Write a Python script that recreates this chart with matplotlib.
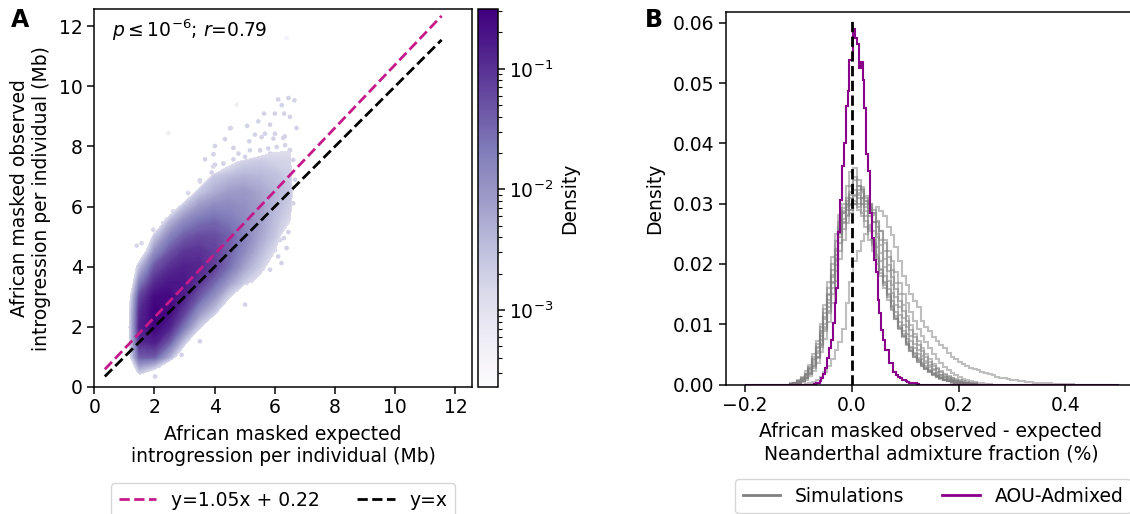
import numpy as np
import matplotlib
matplotlib.use("Agg")
import matplotlib.pyplot as plt
from matplotlib.colors import LogNorm
from matplotlib.cm import ScalarMappable
from matplotlib.lines import Line2D

W, H = 1130, 514

grid_x = [1.0, 1.5, 2.0, 2.5, 3.0, 3.5, 4.0, 4.5, 5.0, 5.5, 6.0, 6.5, 7.0]
grid_y = [0.0, 0.5, 1.0, 1.5, 2.0, 2.5, 3.0, 3.5, 4.0, 4.5, 5.0, 5.5, 6.0, 6.5, 7.0, 7.5, 8.0]
O = -4.5
log_density = [
    [O, O, O, O, O, O, O, O, O, O, O, O, O],
    [O, -2.6, -3.2, O, O, O, O, O, O, O, O, O, O],
    [-3.8, -1.4, -1.4, -2.3, -3.8, O, O, O, O, O, O, O, O],
    [-3.8, -0.95, -0.8, -1.4, -2.6, -4.2, O, O, O, O, O, O, O],
    [-3.8, -0.85, -0.55, -0.85, -1.7, -2.7, -4.2, O, O, O, O, O, O],
    [-3.8, -0.95, -0.52, -0.62, -1.15, -2.0, -2.6, -4.2, O, O, O, O, O],
    [-4.0, -1.2, -0.62, -0.6, -0.85, -1.4, -2.0, -2.8, -4.2, O, O, O, O],
    [O, -1.8, -0.95, -0.75, -0.75, -1.05, -1.5, -2.1, -2.65, -3.1, -3.3, O, O],
    [O, -2.5, -1.35, -1.0, -0.85, -0.9, -1.15, -1.6, -2.2, -2.65, -3.3, O, O],
    [O, -3.6, -1.95, -1.35, -1.05, -1.0, -1.15, -1.45, -1.9, -2.4, -2.9, O, O],
    [O, O, -2.6, -1.8, -1.4, -1.25, -1.25, -1.45, -1.75, -2.2, -2.6, -3.5, O],
    [O, O, -3.9, -2.4, -1.85, -1.6, -1.5, -1.65, -1.85, -2.1, -2.5, -2.9, O],
    [O, O, O, -3.6, -2.5, -2.05, -1.85, -1.85, -1.95, -2.1, -2.4, -2.7, O],
    [O, O, O, O, -3.8, -2.6, -2.3, -2.1, -2.05, -2.2, -2.4, -2.6, O],
    [O, O, O, O, O, -3.8, -2.6, -2.45, -2.35, -2.4, -2.5, -2.7, O],
    [O, O, O, O, O, O, -4.2, -3.1, -2.75, -2.65, -2.75, -2.8, O],
    [O, O, O, O, O, O, O, O, O, -3.4, -3.0, -2.95, O],
]

# single sparse points around the edge of the cloud
fringe_x = [6.45, 6.11, 6.65, 6.23, 6.31, 6.50, 6.00, 5.64, 5.84, 4.53, 5.45, 6.72, 5.08,
            5.67, 6.00, 5.34, 6.28, 5.56, 5.95, 4.34, 5.15, 4.01, 4.62, 6.34, 6.06, 5.78,
            5.17, 4.79, 5.51, 6.50, 5.84, 4.62, 5.01, 3.96, 4.29, 3.68, 4.01, 3.90, 3.51,
            6.39, 6.11, 6.22, 5.84, 5.61, 5.39, 5.73, 6.17, 6.28, 6.39, 6.61, 6.56, 6.67,
            6.61, 6.50, 6.33, 5.06, 5.01, 4.06, 3.51, 2.90, 2.02, 5.90, 6.10, 6.30, 5.60,
            5.30, 5.70, 6.00, 6.45, 6.20, 4.90, 4.40, 4.70, 5.25, 3.30, 2.75, 2.15, 1.70,
            2.46, 6.39, 1.96, 1.41, 1.57, 2.40, 2.29, 2.62, 3.12, 3.51, 3.95, 4.51, 4.73]
fringe_y = [9.61, 9.56, 9.53, 9.37, 9.09, 8.98, 9.09, 9.09, 8.72, 8.61, 8.83, 8.61, 8.68,
            8.42, 8.42, 8.39, 8.28, 8.31, 8.26, 8.24, 8.17, 8.01, 7.95, 8.04, 7.98, 7.93,
            7.87, 7.76, 7.87, 7.87, 7.76, 7.57, 7.65, 7.74, 7.43, 7.57, 7.39, 7.13, 6.87,
            4.62, 4.34, 4.12, 3.90, 3.95, 3.73, 4.89, 4.89, 5.34, 5.67, 6.11, 6.56, 6.89,
            7.55, 7.88, 8.33, 3.46, 2.74, 2.57, 1.52, 1.07, 0.35, 5.30, 5.05, 4.95, 4.45,
            4.15, 4.15, 4.55, 5.15, 5.55, 3.75, 3.10, 3.25, 3.60, 1.95, 1.25, 0.70, 4.30,
            8.44, 11.6, 5.23, 4.70, 4.78, 5.56, 5.45, 5.84, 6.45, 6.83, 7.33, 8.60, 9.38]
fringe_density = [0.0017] * 78 + [0.0005, 0.0004] + [0.0015] * 10 + [0.0005]

line_x = [0.35, 11.54]
fit_y = [0.5875, 12.337]
unity_y = [0.35, 11.54]

density_ticks = [1e-3, 1e-2, 1e-1]

# panel B: AOU histogram, one value per bin of 0.0035, zero outside
aou_start = 37
aou_values = [
    .0001, .0002, .0003, .0005, .0010, .0018, .0027, .0044, .0060, .0074, .0102, .0135, .0160,
    .0253, .0306, .0362, .0400, .0462, .0487, .0538, .0538, .0589, .0575, .0565, .0525, .0535,
    .0505, .0458, .0383, .0355, .0284, .0243, .0206, .0187, .0140, .0118, .0090, .0074, .0057,
    .0057, .0036, .0036, .0020, .0020, .0015, .0012, .0010, .0008, .0007, .0005, .0004, .0003,
    .0003, .0003, .0002, .0001,
]

# simulations, bins of 0.007 starting at bin 12, in units of 1e-4
sim_start = 12
sim_01 = [1, 2, 5, 9, 15, 24, 38, 56, 80, 108, 140, 178, 215, 252, 285, 300, 315, 322, 318, 320, 305, 292, 270, 245, 218, 195, 172, 152, 132, 116, 98, 84, 72, 60, 50, 42, 35, 29, 24, 19, 15, 12, 9, 7, 5, 4, 3, 2, 1, 1]
sim_02 = [1, 1, 3, 6, 11, 19, 30, 46, 68, 95, 128, 168, 208, 250, 292, 330, 352, 360, 340, 325, 300, 280, 255, 228, 205, 180, 158, 138, 120, 103, 88, 75, 63, 53, 44, 36, 30, 24, 19, 15, 12, 9, 7, 5, 4, 3, 2, 1, 1]
sim_03 = [2, 3, 7, 13, 22, 33, 50, 72, 100, 132, 170, 212, 250, 282, 300, 310, 298, 305, 290, 280, 262, 240, 222, 200, 180, 160, 140, 123, 108, 92, 80, 68, 58, 48, 40, 33, 27, 22, 18, 14, 11, 8, 6, 5, 3, 2, 2, 1, 1]
sim_04 = [1, 2, 4, 8, 13, 21, 34, 52, 74, 100, 135, 170, 205, 245, 270, 290, 310, 300, 315, 300, 295, 285, 270, 250, 232, 208, 188, 165, 145, 128, 110, 95, 80, 68, 57, 47, 39, 32, 26, 21, 16, 13, 10, 8, 6, 4, 3, 2, 1, 1]
sim_05 = [1, 3, 5, 10, 17, 27, 42, 62, 88, 118, 150, 190, 225, 262, 288, 295, 330, 340, 310, 300, 280, 258, 235, 212, 190, 170, 150, 130, 113, 97, 84, 70, 60, 50, 41, 34, 28, 23, 18, 14, 11, 8, 6, 4, 3, 2, 1, 1]
sim_06 = [0, 1, 3, 6, 11, 18, 30, 45, 66, 92, 122, 160, 198, 235, 268, 280, 300, 312, 330, 322, 310, 300, 282, 262, 240, 222, 198, 178, 158, 138, 122, 105, 90, 78, 66, 55, 46, 38, 31, 25, 20, 16, 13, 10, 7, 5, 4, 3, 2, 1]
sim_07 = [1, 2, 4, 9, 16, 26, 40, 60, 85, 112, 148, 182, 222, 256, 275, 298, 320, 345, 330, 310, 288, 265, 240, 215, 192, 168, 148, 128, 110, 94, 80, 68, 56, 46, 38, 31, 25, 20, 16, 12, 9, 7, 5, 3, 2, 2, 1, 1]
sim_08 = [0, 1, 2, 5, 10, 17, 28, 44, 62, 88, 118, 150, 188, 222, 258, 282, 290, 300, 322, 328, 312, 300, 290, 270, 255, 235, 212, 190, 168, 150, 132, 114, 98, 84, 72, 60, 50, 42, 34, 28, 23, 18, 14, 11, 9, 7, 5, 4, 3, 2]
sim_09 = [1, 2, 5, 10, 18, 29, 46, 68, 96, 126, 160, 200, 238, 270, 285, 305, 290, 315, 300, 285, 272, 255, 232, 208, 185, 165, 145, 126, 108, 94, 78, 66, 55, 46, 38, 31, 25, 20, 16, 13, 10, 8, 6, 4, 3, 2, 1, 1]
sim_10 = [0, 0, 0, 0, 1, 2, 4, 7, 12, 20, 30, 42, 58, 70, 92, 135, 170, 205, 222, 238, 250, 262, 285, 295, 288, 280, 262, 248, 228, 205, 180, 165, 150, 138, 128, 105, 96, 88, 78, 72, 65, 60, 52, 46, 42, 38, 34, 31, 28, 26, 24, 21, 19, 17, 15, 13, 11, 10, 9, 8, 7, 6, 5, 4, 4, 3, 3, 2, 2, 2, 1, 1, 1, 1, 1, 1]
sim_11 = [0, 1, 2, 4, 8, 14, 23, 36, 54, 76, 104, 136, 172, 208, 240, 268, 285, 300, 295, 310, 305, 298, 285, 272, 255, 240, 222, 205, 186, 168, 150, 135, 120, 105, 92, 80, 70, 60, 50, 42, 35, 29, 24, 19, 15, 12, 9, 7, 5, 4, 3, 2, 1, 1]
simulations = [sim_01, sim_02, sim_03, sim_04, sim_05, sim_06, sim_07, sim_08, sim_09, sim_10, sim_11]


def pixel_axes(fig, left, right, top, bottom):
    return fig.add_axes([left / W, 1 - bottom / H, (right - left) / W, (bottom - top) / H])


def draw_scatter(fig):
    ax = pixel_axes(fig, 94.3, 472, 9.5, 387)
    cax = pixel_axes(fig, 478, 498, 9.5, 387)
    norm = LogNorm(vmin=2.3e-4, vmax=0.31)
    log_min, log_max = np.log10(norm.vmin), np.log10(norm.vmax)

    ax.scatter(fringe_x, fringe_y, c=fringe_density, s=11, cmap="Purples", norm=norm,
               linewidths=0, zorder=1)
    levels = np.linspace(-2.9, log_max, 70)
    ax.contourf(grid_x, grid_y, log_density, levels=levels, cmap="Purples",
                vmin=log_min, vmax=log_max, extend="max", zorder=2)

    ax.plot(line_x, fit_y, "--", color="#c51b8a", lw=2, label="y=1.05x + 0.22", zorder=3)
    ax.plot(line_x, unity_y, "--", color="black", lw=2, label="y=x", zorder=3)

    ax.set_xlim(0, 12.55)
    ax.set_ylim(0, 12.55)
    ax.set_xticks(range(0, 13, 2))
    ax.set_yticks(range(0, 13, 2))
    ax.set_xlabel("African masked expected\nintrogression per individual (Mb)", labelpad=5.2)
    ax.set_ylabel("African masked observed\nintrogression per individual (Mb)", labelpad=6)
    ax.text(0.6, 11.62, r"$p \leq 10^{-6}$; $r$=0.79")
    ax.legend(loc="upper center", bbox_to_anchor=(0.5, -0.255), ncol=2,
              columnspacing=2.0, borderaxespad=0)

    cbar = fig.colorbar(ScalarMappable(norm=norm, cmap="Purples"), cax=cax)
    cbar.set_ticks(density_ticks)
    cbar.set_label("Density", labelpad=4.5)
    fig.text(11 / W, 1 - 27 / H, "A", fontsize=17, fontweight="bold")


def draw_histograms(fig):
    ax = pixel_axes(fig, 726, 1136, 12, 384.5)
    aou_edges = np.linspace(-0.2, 0.5, 201)
    sim_edges = np.linspace(-0.2, 0.5, 101)

    for sim in simulations:
        values = np.array(sim) * 1e-4
        ax.stairs(values, sim_edges[sim_start:sim_start + len(sim) + 1], color="gray",
                  alpha=0.5, lw=1.5)

    aou = np.zeros(200)
    aou[aou_start:aou_start + len(aou_values)] = aou_values
    ax.stairs(aou, aou_edges, color="darkmagenta", lw=1.5)
    ax.plot([0, 0], [0, 0.061], "--", color="black", lw=2)

    ax.set_xlim(-0.235, 0.532)
    ax.set_ylim(0, 0.0618)
    ax.set_xticks([-0.2, 0.0, 0.2, 0.4])
    ax.set_yticks([0.0, 0.01, 0.02, 0.03, 0.04, 0.05, 0.06])
    ax.set_xticklabels(["\u22120.2", "0.0", "0.2", "0.4"])
    ax.set_yticklabels(["0.00", "0.01", "0.02", "0.03", "0.04", "0.05", "0.06"])
    ax.set_xlabel("African masked observed - expected\nNeanderthal admixture fraction (%)", labelpad=5.2)
    ax.set_ylabel("Density", labelpad=6.5)

    handles = [Line2D([], [], color="gray", lw=2), Line2D([], [], color="darkmagenta", lw=2)]
    ax.legend(handles, ["Simulations", "AOU-Admixed"], loc="upper left",
              bbox_to_anchor=(0.022, -0.255), ncol=2, columnspacing=2.0,
              borderaxespad=0)
    fig.text(645 / W, 1 - 27 / H, "B", fontsize=17, fontweight="bold")


def main():
    plt.rcParams["font.size"] = 13.5
    plt.rcParams["axes.linewidth"] = 1.08
    for axis in ("xtick", "ytick"):
        plt.rcParams[f"{axis}.major.size"] = 4.7
        plt.rcParams[f"{axis}.major.width"] = 1.08
        plt.rcParams[f"{axis}.minor.size"] = 2.7
        plt.rcParams[f"{axis}.minor.width"] = 0.8
    fig = plt.figure(figsize=(W / 100, H / 100), dpi=100)
    draw_scatter(fig)
    draw_histograms(fig)
    fig.savefig("out.png", dpi=100)
    plt.close(fig)


if __name__ == "__main__":
    main()
